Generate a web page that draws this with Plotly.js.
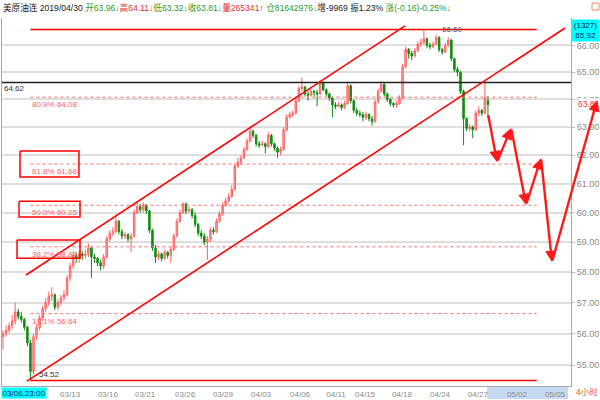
<!DOCTYPE html>
<html><head><meta charset="utf-8">
<script src="https://cdn.plot.ly/plotly-3.0.1.min.js"></script>
<style>html,body{margin:0;padding:0;background:#fff}#chart{width:600px;height:400px}</style>
</head><body><div id="chart"></div>
<script>
// ---- data (4-hour bars, 美原油连) ----
const opens = [55.9,56.0,56.1,56.25,56.4,56.7,56.55,56.45,56.2,55.7,
54.8,55.9,56.2,56.5,56.8,57.0,57.2,57.25,56.85,57.0,
57.15,57.25,57.8,58.2,58.55,58.45,58.6,58.55,58.6,58.8,
58.5,58.45,58.3,58.2,58.5,59.1,59.3,59.35,59.7,59.35,
59.2,59.25,59.1,59.2,60.0,60.2,60.1,60.25,60.05,59.4,
58.8,58.5,58.6,58.45,58.65,58.55,58.75,59.2,59.7,60.0,
60.3,60.05,60.1,59.9,59.6,59.3,59.2,59.0,59.1,59.4,
59.35,59.7,59.95,60.25,60.4,60.55,60.8,61.6,61.75,61.9,
62.2,62.5,62.85,62.7,62.4,62.35,62.4,62.3,62.7,62.4,
62.25,62.1,62.2,62.9,63.35,63.45,63.5,63.95,64.4,64.45,
64.2,64.15,64.3,64.25,64.2,64.6,64.35,64.2,64.05,63.8,
63.75,63.8,63.7,63.85,64.5,63.95,63.6,63.5,63.45,63.35,
63.45,63.3,63.2,63.9,64.3,64.55,64.2,64.0,63.85,63.8,
63.85,64.05,65.2,65.85,65.7,65.6,65.8,66.05,66.1,66.25,
66.0,65.95,66.05,66.3,65.85,65.75,66.0,66.2,65.5,65.1,
65.0,64.3,63.3,62.95,63.0,62.9,63.5,63.6,63.5,63.96];
const highs = [56.1,56.25,56.35,56.6,57.0,56.8,56.7,56.5,56.25,55.8,
56.0,56.3,56.6,56.9,57.15,57.35,57.5,57.3,57.1,57.25,
57.4,57.9,58.3,58.7,58.65,58.7,58.7,58.75,58.95,58.85,
58.6,58.5,58.4,58.6,59.2,59.4,59.5,59.85,59.75,59.45,
59.35,59.3,59.3,60.1,60.35,60.3,60.35,60.3,60.1,59.45,
58.9,58.7,58.65,58.75,58.7,58.85,59.3,59.8,60.1,60.35,
60.35,60.2,60.15,60.0,59.65,59.4,59.3,59.2,59.5,59.5,
59.8,60.05,60.35,60.5,60.65,60.95,61.7,61.9,62.0,62.3,
62.6,62.95,62.9,62.75,62.5,62.5,62.45,62.8,62.75,62.45,
62.3,62.3,63.0,63.45,63.55,63.6,64.05,64.5,64.8,64.5,
64.3,64.4,64.35,64.35,64.7,64.65,64.4,64.25,64.1,63.9,
63.9,63.85,63.95,64.65,64.55,64.0,63.7,63.6,63.55,63.55,
63.5,63.4,64.0,64.4,64.65,64.6,64.25,64.05,63.9,63.95,
64.15,65.3,65.95,65.9,65.8,65.9,66.15,66.25,66.6,66.3,
66.1,66.15,66.4,66.35,65.9,66.1,66.3,66.25,65.55,65.2,
65.05,64.35,63.35,63.1,63.05,63.6,63.75,63.65,64.65,64.11];
const lows = [55.5,55.9,56.0,56.15,56.3,56.45,56.35,56.1,55.6,54.52,
54.7,55.8,56.1,56.4,56.7,56.9,57.05,56.75,56.75,56.9,
57.05,57.2,57.7,58.1,58.3,58.3,58.4,58.45,58.5,57.8,
58.3,58.2,58.05,58.1,58.45,59.0,59.2,59.3,59.25,59.1,
59.1,59.0,58.65,59.15,59.95,60.0,60.0,59.95,59.3,58.7,
58.3,58.4,58.35,58.4,58.45,58.3,58.7,59.15,59.65,59.95,
59.95,60.0,59.8,59.5,59.2,59.1,58.9,58.4,59.0,59.25,
59.3,59.65,59.9,60.2,60.35,60.5,60.75,61.55,61.65,61.85,
62.15,62.45,62.6,62.3,62.25,62.3,62.05,62.25,62.3,62.15,
61.9,62.0,62.15,62.85,63.3,63.35,63.45,63.9,64.3,64.1,
63.95,64.1,64.1,63.75,64.15,64.3,64.1,63.95,63.35,63.65,
63.7,63.6,63.65,63.8,63.85,63.5,63.4,63.35,63.2,63.25,
63.2,63.05,63.15,63.85,64.25,64.1,63.9,63.75,63.7,63.7,
63.8,64.0,65.15,65.5,65.45,65.55,65.75,65.95,66.05,65.9,
65.85,65.9,66.0,65.75,65.65,65.7,65.95,65.4,65.0,64.85,
64.2,62.35,62.85,62.85,62.6,62.85,63.4,63.4,63.45,63.32];
const closes = [56.0,56.1,56.25,56.4,56.7,56.55,56.45,56.2,55.7,54.8,
55.9,56.2,56.5,56.8,57.0,57.2,57.25,56.85,57.0,57.15,
57.25,57.8,58.2,58.55,58.45,58.6,58.55,58.6,58.8,58.5,
58.45,58.3,58.2,58.5,59.1,59.3,59.35,59.7,59.35,59.2,
59.25,59.1,59.2,60.0,60.2,60.1,60.25,60.05,59.4,58.8,
58.5,58.6,58.45,58.65,58.55,58.75,59.2,59.7,60.0,60.3,
60.05,60.1,59.9,59.6,59.3,59.2,59.0,59.1,59.4,59.35,
59.7,59.95,60.25,60.4,60.55,60.8,61.6,61.75,61.9,62.2,
62.5,62.85,62.7,62.4,62.35,62.4,62.3,62.7,62.4,62.25,
62.1,62.2,62.9,63.35,63.45,63.5,63.95,64.4,64.45,64.2,
64.15,64.3,64.25,64.2,64.6,64.35,64.2,64.05,63.8,63.75,
63.8,63.7,63.85,64.5,63.95,63.6,63.5,63.45,63.35,63.45,
63.3,63.2,63.9,64.3,64.55,64.2,64.0,63.85,63.8,63.85,
64.05,65.2,65.85,65.7,65.6,65.8,66.05,66.1,66.25,66.0,
65.95,66.05,66.3,65.85,65.75,66.0,66.2,65.5,65.1,65.0,
64.3,63.3,62.95,63.0,62.9,63.5,63.6,63.5,64.05,63.81];

const tickLabels = ['03/13','03/16','03/21','03/26','03/29','04/03','04/06','04/11','04/15','04/18','04/24','04/27','05/02','05/05'];
const tickIndex  = [22.0,34.4,46.6,59.7,72.1,84.6,97.4,109.2,118.7,130.8,143.3,155.7,168.5,181.0];
const yTickVals  = [55,56,57,58,59,60,61,62,63,64,65,66];

const lowPrice = 54.52, highPrice = 66.60, pivotPrice = 64.62;
const fibLabels = ['80.9%','61.8%','50.0%','38.2%','19.1%'];
const fibPrices = [64.08, 61.68, 60.25, 58.84, 56.64];
const drawStartIdx = 9, drawEndIdx = 175;
const chanUpX = [7.54, 131.8], chanUpY = [57.90, 66.74];
const chanLoX = [7.87, 184.3], chanLoY = [54.50, 66.66];
const boxX0 = [5.57, 5.25, 4.6], boxX1 = [24.9, 25.25, 25.25];
const boxTop = [62.14, 60.39, 59.07], boxBot = [61.23, 59.85, 58.46];
const fcX = [159.0, 162.0, 166.6, 171.5, 176.4, 180.0, 194.8];
const fcY = [63.49, 61.75, 62.96, 60.26, 61.89, 58.33, 63.98];

// ---- helpers ----
const barIndex = closes.map((_, i) => i);
const X_RANGE = [-0.33, 186.23];
const Y_RANGE = [Math.log10(54.35), Math.log10(67.04)];
const PW = 569, PH = 368;
const pX = i => (i - X_RANGE[0]) / (X_RANGE[1] - X_RANGE[0]);
const pY = p => (Math.log10(p) - Y_RANGE[0]) / (Y_RANGE[1] - Y_RANGE[0]);
const FONT = 'Liberation Sans, Arial, Noto Sans CJK SC, sans-serif';
const RED = '#ff0000';

const traces = [];
traces.push({
  type: 'candlestick', x: barIndex, open: opens, high: highs, low: lows, close: closes,
  increasing: {line: {color: '#ff6464', width: 1}, fillcolor: '#ffa4a4'},
  decreasing: {line: {color: '#138c13', width: 1}, fillcolor: '#138c13'},
  whiskerwidth: 0, hoverinfo: 'skip', showlegend: false
});
function line(x, y, color, width, dash) {
  traces.push({type: 'scatter', mode: 'lines', x: x, y: y, hoverinfo: 'skip', showlegend: false,
    line: {color: color, width: width, dash: dash || 'solid'}});
}
line([drawStartIdx, drawEndIdx], [highPrice, highPrice], RED, 1.5);
line([drawStartIdx, drawEndIdx], [lowPrice, lowPrice], RED, 1.5);
line([X_RANGE[0], X_RANGE[1]], [pivotPrice, pivotPrice], '#222', 1.5);
fibPrices.forEach(p => line([drawStartIdx, drawEndIdx], [p, p], '#ff6b6b', 1, 'dot'));
line(chanUpX, chanUpY, RED, 1.6);
line(chanLoX, chanLoY, RED, 1.6);
for (let k = 0; k < boxX0.length; k++) {
  line([boxX0[k], boxX1[k], boxX1[k], boxX0[k], boxX0[k]], [boxTop[k], boxTop[k], boxBot[k], boxBot[k], boxTop[k]], RED, 1.5);
}

// ---- annotations ----
const ann = [];
const headerParts = [
  ['美原油连 2019/04/30 ', '#222'], ['开63.96↓', '#2e9b2e'], ['高64.11↓', '#e83030'],
  ['低63.32↓', '#2e9b2e'], ['收63.81↓', '#2e9b2e'], ['量265341↑ ', '#e83030'],
  ['仓81642976↓', '#2e9b2e'], ['增-9969 振1.23% ', '#222'], ['涨(-0.16)-0.25%↓', '#2e9b2e']
];
ann.push({xref: 'paper', yref: 'paper', x: -0.002, y: (386 - 8) / PH, xanchor: 'left', yanchor: 'middle',
  showarrow: false, font: {family: FONT, size: 8.6, color: '#222'},
  text: headerParts.map(p => `<span style="color:${p[1]}">${p[0]}</span>`).join('')});
fibLabels.forEach((l, k) => ann.push({xref: 'x', yref: 'y', x: drawStartIdx, y: Math.log10(fibPrices[k]),
  xanchor: 'left', yanchor: 'top', yshift: -1, showarrow: false,
  font: {family: FONT, size: 8, color: '#ff6060'}, text: l + ' ' + fibPrices[k].toFixed(2)}));
ann.push({xref: 'paper', yref: 'y', x: 0, y: Math.log10(pivotPrice), xanchor: 'left', yanchor: 'top',
  showarrow: false, font: {family: FONT, size: 8, color: '#333'}, text: pivotPrice.toFixed(2)});
ann.push({xref: 'x', yref: 'y', x: 147.5, y: Math.log10(highPrice), xanchor: 'center', yanchor: 'middle',
  showarrow: false, font: {family: FONT, size: 8, color: '#555'}, text: highPrice.toFixed(2)});
ann.push({xref: 'x', yref: 'y', x: 15.4, y: Math.log10(lowPrice), xanchor: 'center', yanchor: 'bottom',
  showarrow: false, font: {family: FONT, size: 8, color: '#333'}, text: lowPrice.toFixed(2)});
ann.push({xref: 'paper', yref: 'paper', x: (585.5 - 2) / PW, y: (386 - 30) / PH, xanchor: 'center', yanchor: 'middle',
  showarrow: false, bgcolor: '#00ffff', width: 27, height: 21, borderpad: 0,
  font: {family: FONT, size: 8, color: '#0b1a5a'}, text: '(1327)<br>65.92'});
ann.push({xref: 'paper', yref: 'paper', x: (589 - 2) / PW, y: (386 - 104) / PH, xanchor: 'center', yanchor: 'middle',
  showarrow: false, bgcolor: '#ffffff', borderpad: 0,
  font: {family: FONT, size: 8.5, color: '#ff3030'}, text: closes[closes.length - 1].toFixed(2)});
ann.push({xref: 'paper', yref: 'paper', x: (24 - 2) / PW, y: (386 - 392.5) / PH, xanchor: 'center', yanchor: 'middle',
  showarrow: false, bgcolor: '#00ffff', width: 44, height: 10, borderpad: 0,
  font: {family: FONT, size: 8, color: '#1a1a80'}, text: '03/06,23:00'});
ann.push({xref: 'paper', yref: 'paper', x: (587 - 2) / PW, y: (386 - 392) / PH, xanchor: 'center', yanchor: 'middle',
  showarrow: false, font: {family: FONT, size: 8.5, color: '#ee5511'}, text: '4小时'});
for (let k = 1; k < fcX.length; k++) {
  const hx = pX(fcX[k]), hy = pY(fcY[k]), tx = pX(fcX[k - 1]), ty = pY(fcY[k - 1]);
  ann.push({xref: 'paper', yref: 'paper', x: hx, y: hy, ax: (tx - hx) * PW, ay: -(ty - hy) * PH,
    axref: 'pixel', ayref: 'pixel', text: '', showarrow: true, arrowhead: 2, arrowsize: 0.95,
    arrowwidth: 2.4, arrowcolor: '#ff1a1a', standoff: 0, startstandoff: 0});
}

const layout = {
  width: 600, height: 400, margin: {l: 2, r: 29, t: 18, b: 14},
  paper_bgcolor: '#ffffff', plot_bgcolor: '#ffffff', showlegend: false, dragmode: false,
  font: {family: FONT, size: 8, color: '#888'},
  xaxis: {range: X_RANGE, type: 'linear', rangeslider: {visible: false}, showgrid: false, zeroline: false,
    tickmode: 'array', tickvals: tickIndex, ticktext: tickLabels, tickfont: {size: 8, color: '#8a8a8a'},
    ticks: '', showline: true, linecolor: '#a8a8a8', linewidth: 1, fixedrange: true},
  yaxis: {type: 'log', range: Y_RANGE, side: 'right', tickmode: 'array', tickvals: yTickVals,
    ticktext: yTickVals.map(v => v.toFixed(2)), tickfont: {size: 9, color: '#8a8a8a'},
    showgrid: true, gridcolor: '#dedede', gridwidth: 2, ticks: 'outside', ticklen: 3, tickcolor: '#bbb',
    showline: true, linecolor: '#a8a8a8', linewidth: 1, mirror: true, zeroline: false, fixedrange: true},
  shapes: [
    {type: 'rect', xref: 'paper', yref: 'paper', x0: (487 - 2) / PW, x1: (568 - 2) / PW,
      y0: (386 - 399) / PH, y1: (386 - 387) / PH, fillcolor: '#c6dbf2', line: {width: 0}, layer: 'below'},
    {type: 'rect', xref: 'paper', yref: 'paper', x0: (592 - 2) / PW, x1: (599 - 2) / PW,
      y0: (386 - 10) / PH, y1: (386 - 3) / PH, line: {color: '#f08a60', width: 1}}
  ],
  annotations: ann
};
Plotly.newPlot('chart', traces, layout, {staticPlot: true, displayModeBar: false});
</script></body></html>
